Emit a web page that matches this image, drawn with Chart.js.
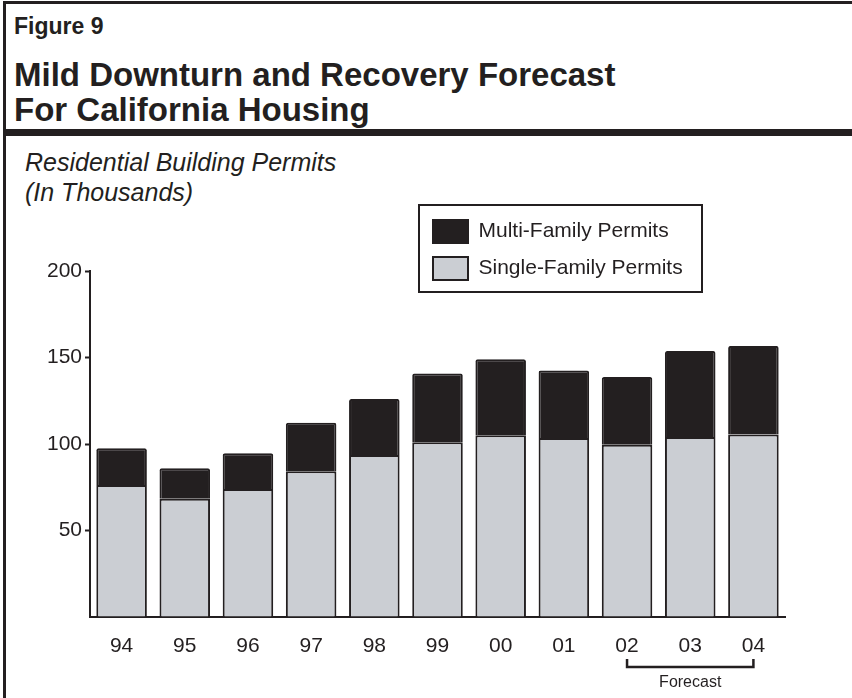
<!DOCTYPE html>
<html>
<head>
<meta charset="utf-8">
<script src="https://cdn.jsdelivr.net/npm/chart.js@4.4.1/dist/chart.umd.min.js"></script>
<style>
  html, body { margin: 0; padding: 0; background: #fff; }
  body { width: 852px; height: 698px; position: relative; overflow: hidden; font-family: "Liberation Sans", Arial, sans-serif; color: #231f20; }
  #chart { position: absolute; left: 0; top: 0; }
  .rule { position: absolute; background: #231f20; }
  .txt { position: absolute; white-space: nowrap; }
  #fig { left: 14px; top: 13px; font-weight: bold; font-size: 23px; }
  #title { left: 14px; top: 57px; font-weight: bold; font-size: 33px; line-height: 35px; }
  #sub { left: 25px; top: 147px; font-style: italic; font-size: 25px; line-height: 30px; }
</style>
</head>
<body>
<div class="rule" style="left:3px; right:0; top:1px; height:3px;"></div>
<div class="rule" style="left:3px; top:1px; bottom:0; width:3px;"></div>
<div class="rule" style="left:3px; right:0; top:129px; height:7px;"></div>
<div class="txt" id="fig">Figure 9</div>
<div class="txt" id="title">Mild Downturn and Recovery Forecast<br>For California Housing</div>
<div class="txt" id="sub">Residential Building Permits<br>(In Thousands)</div>
<canvas id="chart" width="852" height="698"></canvas>
<script>
const years = ["94", "95", "96", "97", "98", "99", "00", "01", "02", "03", "04"];
const singleFamily = [76.3, 68.3, 74.0, 84.2, 93.7, 101.0, 105.0, 103.5, 99.5, 104.0, 105.5];
const multiFamily = [21.2, 17.7, 20.6, 28.1, 32.3, 39.8, 44.0, 39.0, 39.2, 49.7, 51.2];
const yTicks = [50, 100, 150, 200];
const forecastRange = ["02", "04"];
const forecastLabel = "Forecast";

const INK = "#231f20";
const GRAY = "#cbced3";

const legendPlacer = {
  id: "legendPlacer",
  afterLayout(chart) {
    const lg = chart.legend;
    if (!lg) return;
    lg.left = 419; lg.top = 206;
    lg.right = 800; lg.bottom = 600;
  },
  afterDraw(chart) {
    const ctx = chart.ctx;
    ctx.save();
    ctx.strokeStyle = INK;
    ctx.lineWidth = 2;
    ctx.strokeRect(419, 205, 283, 87);
    // forecast bracket
    const xs = chart.scales.x;
    const x1 = xs.getPixelForValue(years.indexOf(forecastRange[0]));
    const x2 = xs.getPixelForValue(years.indexOf(forecastRange[1]));
    const y = 667;
    ctx.beginPath();
    ctx.moveTo(x1, y - 8); ctx.lineTo(x1, y); ctx.lineTo(x2, y); ctx.lineTo(x2, y - 8);
    ctx.lineWidth = 2.5;
    ctx.stroke();
    ctx.fillStyle = INK;
    ctx.font = '16px "Liberation Sans", Arial, sans-serif';
    ctx.textAlign = "center";
    ctx.textBaseline = "middle";
    ctx.fillText(forecastLabel, (x1 + x2) / 2, 683);
    ctx.restore();
  }
};

Chart.defaults.font.family = '"Liberation Sans", Arial, sans-serif';
Chart.defaults.color = INK;

new Chart(document.getElementById("chart"), {
  type: "bar",
  data: {
    labels: years,
    datasets: [
      { label: "Single-Family Permits", data: singleFamily, backgroundColor: GRAY, borderColor: INK, borderWidth: 2, borderRadius: 2, borderSkipped: "start" },
      { label: "Multi-Family Permits", data: multiFamily, backgroundColor: INK, borderColor: INK, borderWidth: 2, borderRadius: 2, borderSkipped: "start" }
    ]
  },
  options: {
    responsive: false,
    animation: false,
    layout: { padding: { left: 40, right: 67, top: 271, bottom: 41 } },
    datasets: { bar: { categoryPercentage: 1.0, barPercentage: 0.8 } },
    plugins: {
      tooltip: { enabled: false },
      legend: {
        position: "chartArea",
        align: "start",
        reverse: true,
        labels: { boxWidth: 35, boxHeight: 23, padding: 14, color: INK, font: { size: 21 } }
      }
    },
    scales: {
      x: {
        stacked: true,
        border: { display: true, color: INK, width: 2 },
        grid: { display: false, drawTicks: false },
        ticks: { padding: 17, color: INK, font: { size: 21 } },
        afterFit(s) { s.height = 40; }
      },
      y: {
        stacked: true,
        min: 0, max: 200,
        afterBuildTicks(s) { s.ticks = [0].concat(yTicks).map(v => ({ value: v })); },
        border: { display: true, color: INK, width: 2 },
        grid: { drawOnChartArea: false, drawTicks: true, tickLength: 5, tickWidth: 2, tickColor: (c) => c.tick && c.tick.value === 0 ? "rgba(0,0,0,0)" : INK },
        ticks: { padding: 3, color: INK, font: { size: 21 }, callback: (v) => v === 0 ? "" : String(v) },
        afterFit(s) { s.width = 50; }
      }
    }
  },
  plugins: [legendPlacer]
});
</script>
</body>
</html>
